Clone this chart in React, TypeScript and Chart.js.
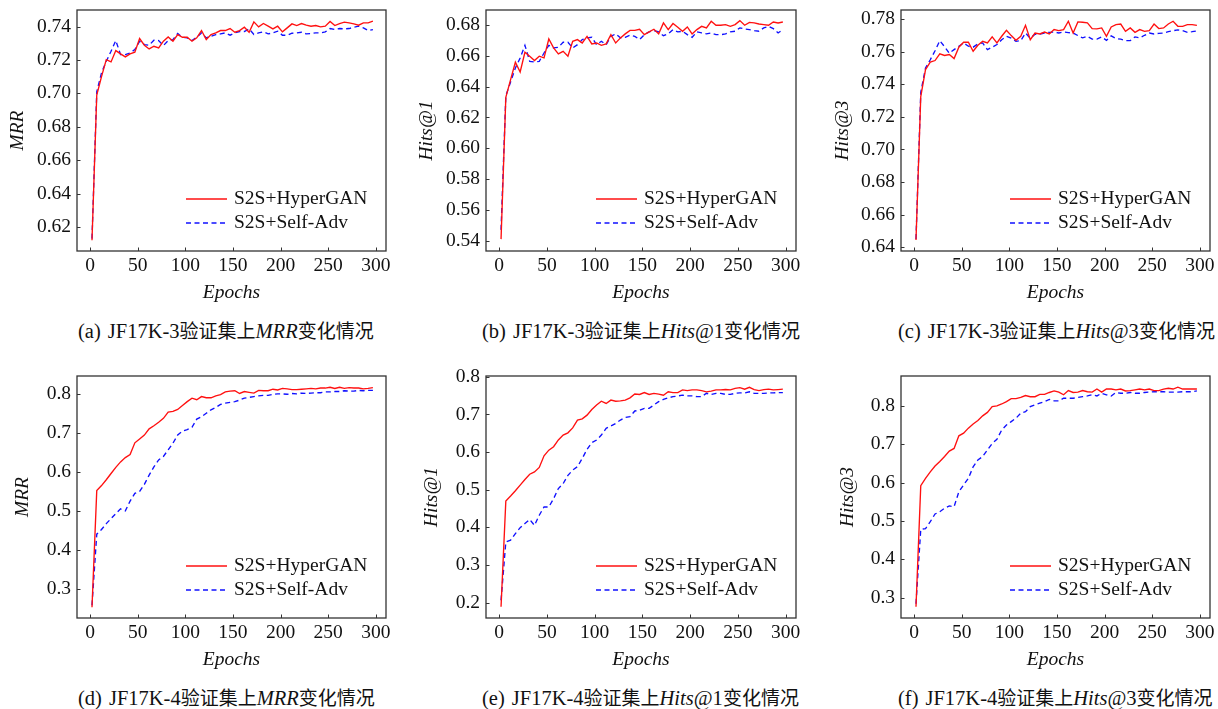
import React, { useEffect, useRef } from 'react';
import { Chart, registerables } from 'chart.js';
Chart.register(...registerables);

// ---------------- data ----------------
const EPOCHS = [2, 7, 12, 17, 22, 27, 32, 37, 42, 47, 52, 57, 62, 67, 72, 77, 82, 87, 92, 97, 102, 107, 112, 117, 122, 127, 132, 137, 142, 147, 152, 157, 162, 167, 172, 177, 182, 187, 192, 197, 202, 207, 212, 217, 222, 227, 232, 237, 242, 247, 252, 257, 262, 267, 272, 277, 282, 287, 292, 297];
const X_TICKS = [0, 50, 100, 150, 200, 250, 300];
const SERIES_NAMES = ['S2S+HyperGAN', 'S2S+Self-Adv'];

// (a) JF17K-3 MRR
const A_HYPERGAN = [0.612, 0.699, 0.710, 0.7202, 0.7188, 0.7256, 0.7236, 0.7218, 0.7236, 0.7246, 0.7328, 0.7288, 0.7266, 0.7282, 0.7272, 0.7312, 0.7338, 0.7312, 0.7352, 0.7336, 0.7336, 0.7312, 0.7332, 0.7376, 0.7322, 0.7352, 0.7362, 0.7376, 0.7376, 0.7388, 0.7366, 0.7376, 0.7396, 0.7366, 0.7428, 0.7398, 0.7418, 0.7402, 0.7386, 0.7402, 0.7368, 0.7392, 0.7416, 0.7406, 0.7418, 0.7408, 0.7402, 0.7406, 0.7398, 0.7402, 0.7430, 0.7406, 0.7418, 0.7426, 0.7422, 0.7416, 0.7408, 0.7422, 0.7422, 0.7432];
const A_SELFADV = [0.613, 0.701, 0.7123, 0.7192, 0.7252, 0.7316, 0.7232, 0.7232, 0.7242, 0.7262, 0.7312, 0.7292, 0.7288, 0.7318, 0.7316, 0.7286, 0.7316, 0.7322, 0.7358, 0.7336, 0.7332, 0.7316, 0.7336, 0.7362, 0.7332, 0.7342, 0.7352, 0.7356, 0.7362, 0.7348, 0.7362, 0.7370, 0.7370, 0.7386, 0.7352, 0.7362, 0.7368, 0.7356, 0.7362, 0.7372, 0.7348, 0.7348, 0.7360, 0.7362, 0.7366, 0.7356, 0.7358, 0.7362, 0.7362, 0.7368, 0.7388, 0.7382, 0.7388, 0.7386, 0.7388, 0.7396, 0.7402, 0.7392, 0.7376, 0.7382];
const A_TICKS = [0.62, 0.64, 0.66, 0.68, 0.70, 0.72, 0.74];

// (b) JF17K-3 Hits@1
const B_HYPERGAN = [0.541, 0.633, 0.6445, 0.6558, 0.6495, 0.6623, 0.6597, 0.6569, 0.6597, 0.6586, 0.6709, 0.6651, 0.6612, 0.6629, 0.6597, 0.6694, 0.6705, 0.6683, 0.6726, 0.6677, 0.6683, 0.6668, 0.6677, 0.6737, 0.6683, 0.6716, 0.6742, 0.6765, 0.6765, 0.6772, 0.6737, 0.6755, 0.6772, 0.6742, 0.6813, 0.6770, 0.6809, 0.6785, 0.6759, 0.6787, 0.6742, 0.6770, 0.6791, 0.6781, 0.6824, 0.6798, 0.6798, 0.6802, 0.6791, 0.6802, 0.6828, 0.6798, 0.6817, 0.6813, 0.6806, 0.6802, 0.6798, 0.6819, 0.6813, 0.6819];
const B_SELFADV = [0.547, 0.634, 0.643, 0.6521, 0.6586, 0.6668, 0.6564, 0.6560, 0.6564, 0.6618, 0.6668, 0.6651, 0.6655, 0.6688, 0.6688, 0.6651, 0.6672, 0.6705, 0.6716, 0.6720, 0.6672, 0.6694, 0.6672, 0.6726, 0.6742, 0.6716, 0.6720, 0.6733, 0.6726, 0.6705, 0.6737, 0.6755, 0.6763, 0.6755, 0.6730, 0.6742, 0.6770, 0.6755, 0.6759, 0.6737, 0.6720, 0.6755, 0.6748, 0.6742, 0.6748, 0.6737, 0.6737, 0.6742, 0.6755, 0.6759, 0.6781, 0.6774, 0.6770, 0.6763, 0.6759, 0.6781, 0.6791, 0.6776, 0.6748, 0.6770];
const B_TICKS = [0.54, 0.56, 0.58, 0.60, 0.62, 0.64, 0.66, 0.68];

// (c) JF17K-3 Hits@3
const C_HYPERGAN = [0.6445, 0.7324, 0.749, 0.7535, 0.7545, 0.7586, 0.7576, 0.7582, 0.7557, 0.7627, 0.7657, 0.7657, 0.7602, 0.7639, 0.7663, 0.7653, 0.7690, 0.7653, 0.7694, 0.7731, 0.7698, 0.7669, 0.7694, 0.7761, 0.7673, 0.7714, 0.7708, 0.7720, 0.7708, 0.7735, 0.7729, 0.7735, 0.7786, 0.7714, 0.7782, 0.7780, 0.7776, 0.7741, 0.7739, 0.7745, 0.7694, 0.7751, 0.7765, 0.7769, 0.7724, 0.7745, 0.7718, 0.7735, 0.7724, 0.7729, 0.7769, 0.7741, 0.7745, 0.7769, 0.7786, 0.7755, 0.7755, 0.7765, 0.7765, 0.7761];
const C_SELFADV = [0.645, 0.735, 0.750, 0.755, 0.7605, 0.7667, 0.7630, 0.7590, 0.7612, 0.7633, 0.7653, 0.7633, 0.7627, 0.7647, 0.7653, 0.7612, 0.7627, 0.7643, 0.7673, 0.7694, 0.7682, 0.7663, 0.7667, 0.7714, 0.7682, 0.7706, 0.7708, 0.7714, 0.7718, 0.7720, 0.7714, 0.7720, 0.7716, 0.7714, 0.7698, 0.7684, 0.7694, 0.7676, 0.7676, 0.7690, 0.7669, 0.7696, 0.7680, 0.7676, 0.7667, 0.7667, 0.7690, 0.7684, 0.7700, 0.7714, 0.7708, 0.7712, 0.7714, 0.7722, 0.7728, 0.7733, 0.7728, 0.7718, 0.7722, 0.7727];
const C_TICKS = [0.64, 0.66, 0.68, 0.70, 0.72, 0.74, 0.76, 0.78];

// (d) JF17K-4 MRR
const D_HYPERGAN = [0.252, 0.552, 0.565, 0.580, 0.596, 0.612, 0.626, 0.637, 0.645, 0.675, 0.685, 0.695, 0.711, 0.719, 0.728, 0.738, 0.754, 0.756, 0.761, 0.771, 0.781, 0.790, 0.786, 0.794, 0.791, 0.791, 0.796, 0.799, 0.806, 0.808, 0.809, 0.802, 0.807, 0.805, 0.803, 0.810, 0.809, 0.809, 0.813, 0.811, 0.815, 0.814, 0.812, 0.812, 0.813, 0.814, 0.815, 0.814, 0.816, 0.816, 0.818, 0.815, 0.818, 0.815, 0.817, 0.816, 0.816, 0.814, 0.815, 0.817];
const D_SELFADV = [0.257, 0.440, 0.452, 0.467, 0.480, 0.493, 0.505, 0.500, 0.525, 0.545, 0.550, 0.568, 0.592, 0.613, 0.631, 0.640, 0.657, 0.674, 0.695, 0.705, 0.709, 0.715, 0.736, 0.742, 0.751, 0.760, 0.766, 0.774, 0.777, 0.779, 0.781, 0.785, 0.790, 0.792, 0.794, 0.796, 0.797, 0.797, 0.800, 0.801, 0.801, 0.800, 0.802, 0.801, 0.803, 0.802, 0.803, 0.804, 0.804, 0.806, 0.806, 0.807, 0.807, 0.809, 0.808, 0.808, 0.810, 0.809, 0.810, 0.810];
const D_TICKS = [0.3, 0.4, 0.5, 0.6, 0.7, 0.8];

// (e) JF17K-4 Hits@1
const E_HYPERGAN = [0.189, 0.470, 0.483, 0.497, 0.512, 0.527, 0.541, 0.547, 0.559, 0.590, 0.605, 0.614, 0.632, 0.645, 0.651, 0.664, 0.685, 0.688, 0.698, 0.713, 0.725, 0.735, 0.729, 0.738, 0.735, 0.736, 0.738, 0.744, 0.754, 0.753, 0.758, 0.753, 0.756, 0.754, 0.751, 0.760, 0.758, 0.758, 0.765, 0.763, 0.765, 0.765, 0.763, 0.760, 0.762, 0.765, 0.765, 0.766, 0.765, 0.769, 0.771, 0.767, 0.772, 0.766, 0.763, 0.766, 0.767, 0.765, 0.766, 0.767];
const E_SELFADV = [0.206, 0.361, 0.366, 0.383, 0.399, 0.410, 0.421, 0.405, 0.432, 0.454, 0.454, 0.476, 0.503, 0.516, 0.538, 0.552, 0.561, 0.583, 0.607, 0.625, 0.632, 0.645, 0.663, 0.669, 0.676, 0.685, 0.692, 0.694, 0.709, 0.711, 0.716, 0.716, 0.725, 0.734, 0.740, 0.744, 0.747, 0.749, 0.751, 0.749, 0.749, 0.747, 0.747, 0.756, 0.753, 0.756, 0.756, 0.753, 0.753, 0.756, 0.757, 0.757, 0.760, 0.756, 0.756, 0.756, 0.757, 0.757, 0.758, 0.758];
const E_TICKS = [0.2, 0.3, 0.4, 0.5, 0.6, 0.7, 0.8];

// (f) JF17K-4 Hits@3
const F_HYPERGAN = [0.276, 0.592, 0.611, 0.628, 0.643, 0.655, 0.668, 0.682, 0.689, 0.722, 0.729, 0.742, 0.753, 0.762, 0.774, 0.783, 0.798, 0.800, 0.805, 0.811, 0.819, 0.819, 0.822, 0.827, 0.824, 0.824, 0.830, 0.830, 0.835, 0.839, 0.836, 0.829, 0.840, 0.835, 0.836, 0.840, 0.837, 0.836, 0.844, 0.836, 0.844, 0.844, 0.842, 0.844, 0.839, 0.840, 0.842, 0.844, 0.842, 0.844, 0.840, 0.840, 0.844, 0.846, 0.844, 0.849, 0.844, 0.844, 0.844, 0.844];
const F_SELFADV = [0.284, 0.478, 0.480, 0.498, 0.518, 0.524, 0.533, 0.539, 0.537, 0.576, 0.594, 0.611, 0.641, 0.659, 0.668, 0.685, 0.702, 0.713, 0.737, 0.750, 0.759, 0.768, 0.781, 0.785, 0.798, 0.803, 0.807, 0.811, 0.817, 0.813, 0.813, 0.820, 0.820, 0.820, 0.822, 0.824, 0.826, 0.829, 0.826, 0.833, 0.829, 0.826, 0.835, 0.833, 0.833, 0.835, 0.833, 0.833, 0.835, 0.836, 0.837, 0.837, 0.837, 0.836, 0.836, 0.836, 0.837, 0.837, 0.837, 0.839];
const F_TICKS = [0.3, 0.4, 0.5, 0.6, 0.7, 0.8];

const Y_TITLES = ['MRR', 'Hits@1', 'Hits@3', 'MRR', 'Hits@1', 'Hits@3'];
const CAPTION_TAGS = ['(a)', '(b)', '(c)', '(d)', '(e)', '(f)'];
const CAPTION_DATASET = ['JF17K-3', 'JF17K-3', 'JF17K-3', 'JF17K-4', 'JF17K-4', 'JF17K-4'];
const CAPTION_MID = '验证集上';
const CAPTION_METRIC = ['MRR', 'Hits', 'Hits', 'MRR', 'Hits', 'Hits'];
const CAPTION_METRIC_TAIL = ['', '@1', '@3', '', '@1', '@3'];
const CAPTION_END = '变化情况';

// ---------------- styles / layout ----------------
const FAMILY = '"Liberation Serif", "Times New Roman", serif';
const FS = 19.5;
const RED = '#ff1010';
const BLUE = '#1010ff';
const X_MIN = -13.75;
const X_MAX = 310.75;

type PanelSpec = {
  left: number; top: number; width: number; height: number;
  plotLeft: number; plotRight: number; plotTop: number; plotBottom: number;
  yTitleX: number; yMin: number; yMax: number; yTicks: number[]; decimals: number;
  red: number[]; blue: number[]; title: string;
};

const COLS = [
  { left: 0, width: 400, plotLeft: 77, plotRight: 386 },
  { left: 400, width: 410, plotLeft: 86, plotRight: 396 },
  { left: 810, width: 408, plotLeft: 91, plotRight: 400 },
];
const ROWS = [
  { top: 0, height: 311, plotTop: 10, plotBottom: 251 },
  { top: 360, height: 318, plotTop: 16, plotBottom: 258 },
];
const Y_TITLE_X = [18, 27, 33, 23, 32, 38];
const Y_RANGES = [[0.6056, 0.7499], [0.5333, 0.6897], [0.6377, 0.7855], [0.2242, 0.847], [0.159, 0.802], [0.2467, 0.878]];
const TICK_SETS = [A_TICKS, B_TICKS, C_TICKS, D_TICKS, E_TICKS, F_TICKS];
const REDS = [A_HYPERGAN, B_HYPERGAN, C_HYPERGAN, D_HYPERGAN, E_HYPERGAN, F_HYPERGAN];
const BLUES = [A_SELFADV, B_SELFADV, C_SELFADV, D_SELFADV, E_SELFADV, F_SELFADV];

const PANELS: PanelSpec[] = [0, 1, 2, 3, 4, 5].map((i) => {
  const c = COLS[i % 3];
  const r = ROWS[Math.floor(i / 3)];
  return {
    left: c.left, top: r.top, width: c.width, height: r.height,
    plotLeft: c.plotLeft, plotRight: c.plotRight, plotTop: r.plotTop, plotBottom: r.plotBottom,
    yTitleX: Y_TITLE_X[i], yMin: Y_RANGES[i][0], yMax: Y_RANGES[i][1], yTicks: TICK_SETS[i],
    decimals: i < 3 ? 2 : 1, red: REDS[i], blue: BLUES[i], title: Y_TITLES[i],
  };
});

const framePlugin = {
  id: 'frameBox',
  afterDraw(chart: any) {
    const { ctx, chartArea: a, scales } = chart;
    ctx.save();
    ctx.strokeStyle = '#333';
    ctx.lineWidth = 1.3;
    ctx.strokeRect(a.left, a.top, a.right - a.left, a.bottom - a.top);
    ctx.lineWidth = 1;
    ctx.beginPath();
    scales.y.ticks.forEach((t: any) => {
      const y = Math.round(scales.y.getPixelForValue(t.value)) + 0.5;
      ctx.moveTo(a.left, y); ctx.lineTo(a.left + 3.5, y);
    });
    scales.x.ticks.forEach((t: any) => {
      const x = Math.round(scales.x.getPixelForValue(t.value)) + 0.5;
      ctx.moveTo(x, a.bottom); ctx.lineTo(x, a.bottom - 3.5);
    });
    ctx.stroke();
    ctx.restore();
  },
};

const legendPlugin = {
  id: 'innerLegend',
  afterDraw(chart: any) {
    const { ctx, chartArea: a } = chart;
    const rows = [
      { y: a.bottom - 52, color: RED, dash: [] as number[], text: SERIES_NAMES[0] },
      { y: a.bottom - 28, color: BLUE, dash: [5, 3.5], text: SERIES_NAMES[1] },
    ];
    ctx.save();
    rows.forEach((r) => {
      ctx.beginPath();
      ctx.setLineDash(r.dash);
      ctx.strokeStyle = r.color;
      ctx.lineWidth = 1.4;
      ctx.moveTo(a.right - 200, r.y);
      ctx.lineTo(a.right - 159, r.y);
      ctx.stroke();
      ctx.setLineDash([]);
      ctx.fillStyle = '#111';
      ctx.font = `${FS}px ${FAMILY}`;
      ctx.textBaseline = 'middle';
      ctx.textAlign = 'left';
      ctx.fillText(r.text, a.right - 152, r.y);
    });
    ctx.restore();
  },
};

function buildConfig(p: PanelSpec): any {
  const tickFont = { family: FAMILY, size: FS };
  const titleFont = { family: FAMILY, size: FS, style: 'italic' as const };
  return {
    type: 'line',
    data: {
      datasets: [
        {
          label: SERIES_NAMES[0],
          data: EPOCHS.map((e, i) => ({ x: e, y: p.red[i] })),
          borderColor: RED, borderWidth: 1.35, pointRadius: 0, tension: 0, fill: false,
        },
        {
          label: SERIES_NAMES[1],
          data: EPOCHS.map((e, i) => ({ x: e, y: p.blue[i] })),
          borderColor: BLUE, borderWidth: 1.35, borderDash: [5, 3.5], pointRadius: 0, tension: 0, fill: false,
        },
      ],
    },
    options: {
      responsive: false,
      animation: false,
      devicePixelRatio: 1,
      layout: { padding: { left: 0, top: p.plotTop, right: p.width - p.plotRight, bottom: 0 } },
      plugins: { legend: { display: false }, tooltip: { enabled: false } },
      scales: {
        x: {
          type: 'linear', min: X_MIN, max: X_MAX,
          afterBuildTicks: (s: any) => { s.ticks = X_TICKS.map((v) => ({ value: v })); },
          afterFit: (s: any) => { s.height = p.height - p.plotBottom; s.paddingLeft = 0; s.paddingRight = 0; s.paddingTop = 0; s.paddingBottom = 0; },
          grid: { display: false, drawTicks: false },
          border: { display: false },
          ticks: { color: '#111', font: tickFont, padding: 3, maxRotation: 0, autoSkip: false, callback: (v: any) => String(v) },
          title: { display: true, text: 'Epochs', color: '#111', font: titleFont, padding: { top: 0, bottom: 6 } },
        },
        y: {
          type: 'linear', min: p.yMin, max: p.yMax,
          afterBuildTicks: (s: any) => { s.ticks = p.yTicks.map((v) => ({ value: v })); },
          afterFit: (s: any) => { s.width = p.plotLeft; s.paddingLeft = 0; s.paddingRight = 0; s.paddingTop = 0; s.paddingBottom = 0; },
          grid: { display: false, drawTicks: false },
          border: { display: false },
          ticks: { color: '#111', font: tickFont, padding: 6, autoSkip: false, callback: (v: any) => Number(v).toFixed(p.decimals) },
          title: { display: true, text: p.title, color: '#111', font: titleFont, padding: { top: p.yTitleX - FS * 0.6, bottom: 0 } },
        },
      },
    },
    plugins: [framePlugin, legendPlugin],
  };
}

function Panel({ spec }: { spec: PanelSpec }) {
  const ref = useRef<HTMLCanvasElement>(null);
  useEffect(() => {
    const chart = new Chart(ref.current as HTMLCanvasElement, buildConfig(spec));
    return () => chart.destroy();
  }, [spec]);
  return (
    <canvas
      ref={ref}
      width={spec.width}
      height={spec.height}
      style={{ position: 'absolute', left: spec.left, top: spec.top, width: spec.width, height: spec.height, display: 'block' }}
    />
  );
}

const CAPTION_POS = [
  { left: 78, top: 318 }, { left: 482, top: 318 }, { left: 898, top: 318 },
  { left: 78, top: 685 }, { left: 482, top: 685 }, { left: 898, top: 685 },
];
const LATIN: React.CSSProperties = { fontFamily: FAMILY, fontSize: 20.5 };
const CJK: React.CSSProperties = { fontFamily: '"Noto Sans CJK SC", sans-serif', fontSize: 19 };

export default function App() {
  return (
    <div style={{ position: 'absolute', left: 0, top: 0, width: 1218, height: 709, background: '#fff', overflow: 'hidden' }}>
      {PANELS.map((p, i) => <Panel key={i} spec={p} />)}
      {CAPTION_TAGS.map((tag, i) => (
        <div
          key={'c' + i}
          style={{
            position: 'absolute', left: CAPTION_POS[i].left, top: CAPTION_POS[i].top,
            fontFamily: FAMILY, fontSize: 19, lineHeight: '24px', whiteSpace: 'nowrap', color: '#111',
          }}
        >
          <span style={LATIN}>{tag}</span>
          <span style={{ ...LATIN, marginLeft: 7 }}>{CAPTION_DATASET[i]}</span>
          <span style={CJK}>{CAPTION_MID}</span>
          <i style={LATIN}>{CAPTION_METRIC[i]}</i>
          <span style={LATIN}>{CAPTION_METRIC_TAIL[i]}</span>
          <span style={CJK}>{CAPTION_END}</span>
        </div>
      ))}
    </div>
  );
}
